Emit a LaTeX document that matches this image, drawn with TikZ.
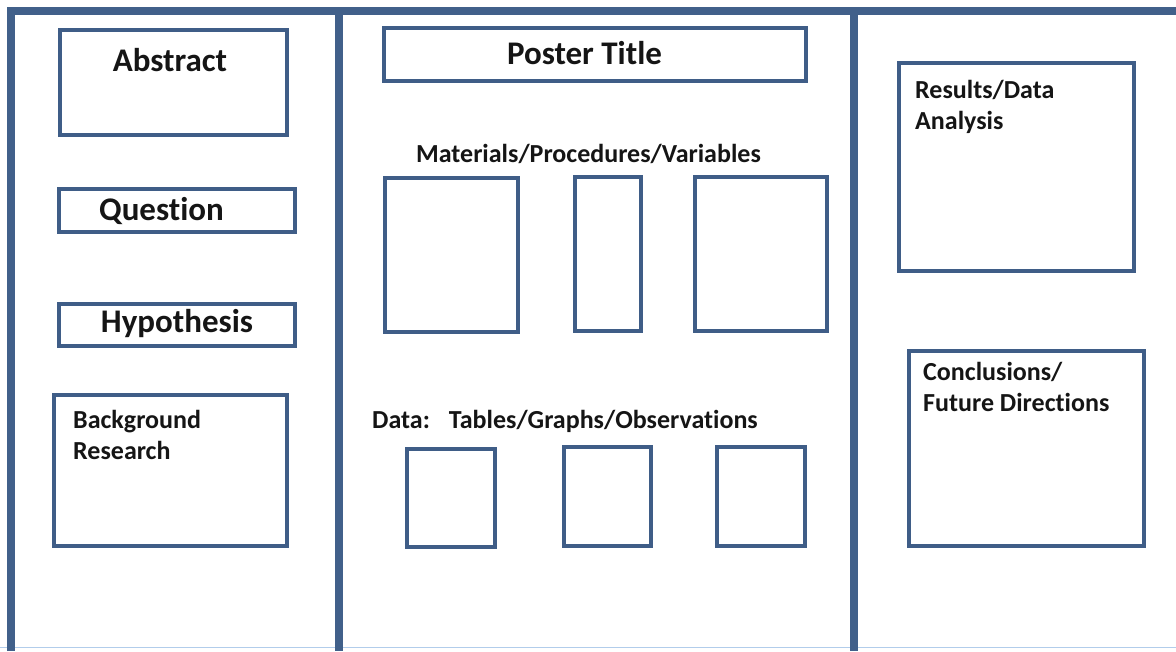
\documentclass[tikz,border=0pt]{standalone}
\usepackage{fontspec}
\setmainfont{Carlito}[Ligatures=NoCommon]
\definecolor{frameblue}{HTML}{41608A}
\definecolor{boxblue}{HTML}{3F5D87}
\definecolor{edgeblue}{HTML}{B2CDEB}
\definecolor{ink}{HTML}{151515}
\newcommand{\headfont}{\fontsize{33}{40}\selectfont\bfseries}
\newcommand{\labelfont}{\fontsize{26}{31}\selectfont\bfseries}
\begin{document}
\begin{tikzpicture}[x=1pt,y=-1pt,
  panel/.style={draw=boxblue,line width=4pt,rectangle,inner sep=0pt,outer sep=0pt,fill=white},
  heading/.style={inner sep=0pt,anchor=base,text=ink,font=\headfont},
  caption/.style={inner sep=0pt,anchor=base west,text=ink,font=\labelfont},
  divider/.style={draw=frameblue,line width=8pt}]
\useasboundingbox[fill=white] (0,0) rectangle (1176,651);

% board frame and folds
\draw[edgeblue,line width=1.5pt] (0,647.5) -- (1176,647.5);
\draw[divider,line join=miter] (11,651) -- (11,11) -- (1176,11);
\draw[divider] (339,11) -- (339,651);
\draw[divider] (854,11) -- (854,651);

% left panel
\node[panel,minimum width=227pt,minimum height=105pt] (abs) at (173.5,82.5) {};
\node[panel,minimum width=236pt,minimum height=43pt] (que) at (177,210.5) {};
\node[panel,minimum width=236pt,minimum height=42pt] (hyp) at (177,325) {};
\node[panel,minimum width=233pt,minimum height=151pt] (bgr) at (170.5,470.5) {};
\node[heading] (absT) at (170,71) {Abstract};
\node[heading] (queT) at (161.5,220) {Question};
\node[heading] (hypT) at (177,332) {Hypothesis};
\node[caption] (bgrT) at (73,428) {\begin{tabular}[t]{@{}l@{}}Background\\Research\end{tabular}};

% centre panel
\node[panel,minimum width=422pt,minimum height=53pt] (ttl) at (595,54.5) {};
\node[heading] (ttlT) at (584.5,64) {Poster Title};
\node[caption,anchor=base] (matT) at (588.5,162) {Materials/Procedures/Variables};
\node[panel,minimum width=133pt,minimum height=154pt] (mA) at (451.5,255) {};
\node[panel,minimum width=66pt,minimum height=154pt] (mB) at (608,254) {};
\node[panel,minimum width=132pt,minimum height=154pt] (mC) at (761,254) {};
\node[caption] (datT) at (372,428) {Data:\hspace{19pt}Tables/Graphs/Observations};
\node[panel,minimum width=88pt,minimum height=98pt] (dA) at (451,498) {};
\node[panel,minimum width=87pt,minimum height=99pt] (dB) at (607.5,496.5) {};
\node[panel,minimum width=88pt,minimum height=99pt] (dC) at (761,496.5) {};

% right panel
\node[panel,minimum width=235pt,minimum height=208pt] (res) at (1016.5,167) {};
\node[caption] (resT) at (915,98) {\begin{tabular}[t]{@{}l@{}}Results/Data\\Analysis\end{tabular}};
\node[panel,minimum width=235pt,minimum height=195pt] (con) at (1026.5,448.5) {};
\node[caption] (conT) at (923,380) {\begin{tabular}[t]{@{}l@{}}Conclusions/\\Future Directions\end{tabular}};
\end{tikzpicture}
\end{document}
